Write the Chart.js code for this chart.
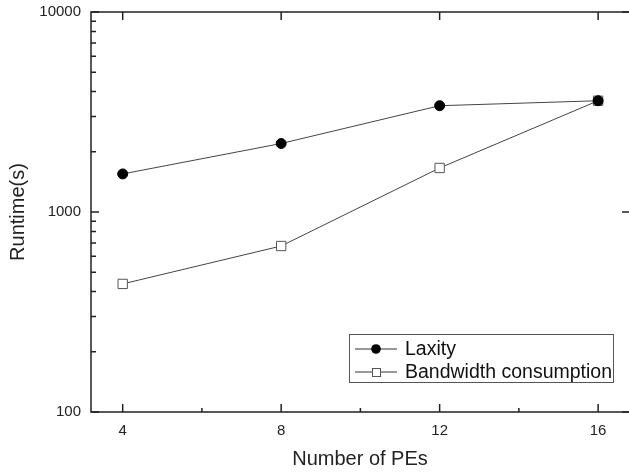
<!DOCTYPE html>
<html>
<head>
<meta charset="utf-8">
<script src="https://cdn.jsdelivr.net/npm/chart.js@4.4.1/dist/chart.umd.min.js"></script>
<style>
  html, body { margin: 0; padding: 0; background: #fff; overflow: hidden; }
  #chart { width: 629px; height: 472px; display: block; }
</style>
</head>
<body>
<canvas id="chart" width="629" height="472"></canvas>
<script>
// data
const peCounts = [4, 8, 12, 16];
const laxity = [1550, 2200, 3400, 3600];
const bandwidth = [437, 676, 1660, 3600];
const xTicks = [4, 8, 12, 16];
const xMinorTicks = [6, 10, 14];
const yTicks = [100, 1000, 10000];
const yMinorTicks = [200, 300, 400, 500, 600, 700, 800, 900, 2000, 3000, 4000, 5000, 6000, 7000, 8000, 9000];

const FONT = "'Liberation Sans', Arial, sans-serif";

// frame (right edge sits just outside the picture), inward ticks, boxed legend
const framePlugin = {
    id: 'frame',
    afterDraw(chart) {
        const ctx = chart.ctx;
        const a = chart.chartArea;
        const xs = chart.scales.x, ys = chart.scales.y;
        ctx.save();
        ctx.strokeStyle = '#222';
        ctx.lineWidth = 1.5;
        ctx.beginPath();
        ctx.moveTo(a.right + 2, a.top);
        ctx.lineTo(a.left, a.top);
        ctx.lineTo(a.left, a.bottom);
        ctx.lineTo(a.right + 2, a.bottom);
        ctx.stroke();

        ctx.beginPath();
        xTicks.forEach(v => {
            const px = xs.getPixelForValue(v);
            ctx.moveTo(px, a.bottom); ctx.lineTo(px, a.bottom - 8);
            ctx.moveTo(px, a.top); ctx.lineTo(px, a.top + 8);
        });
        xMinorTicks.forEach(v => {
            const px = xs.getPixelForValue(v);
            ctx.moveTo(px, a.bottom); ctx.lineTo(px, a.bottom - 4);
        });
        yTicks.forEach(v => {
            const py = ys.getPixelForValue(v);
            ctx.moveTo(a.left, py); ctx.lineTo(a.left + 8, py);
            ctx.moveTo(a.right + 2, py); ctx.lineTo(a.right - 7, py);
        });
        yMinorTicks.forEach(v => {
            const py = ys.getPixelForValue(v);
            ctx.moveTo(a.left, py); ctx.lineTo(a.left + 5, py);
        });
        ctx.stroke();

        // legend box
        const bx = 349.5, by = 334.5, bw = 264, bh = 48;
        ctx.lineWidth = 1;
        ctx.strokeStyle = '#555';
        ctx.strokeRect(bx, by, bw, bh);

        const rows = [349, 372];
        chart.data.datasets.forEach((ds, i) => {
            const y = rows[i];
            ctx.strokeStyle = '#333';
            ctx.lineWidth = 1;
            ctx.beginPath();
            ctx.moveTo(355, y); ctx.lineTo(397, y);
            ctx.stroke();
            if (ds.pointStyle === 'circle') {
                ctx.fillStyle = '#000';
                ctx.beginPath();
                ctx.arc(376, y, 4.8, 0, Math.PI * 2);
                ctx.fill();
            } else {
                ctx.fillStyle = '#fff';
                ctx.strokeStyle = '#555';
                ctx.fillRect(372, y - 4, 8, 8);
                ctx.strokeRect(372.5, y - 3.5, 8, 8);
            }
            ctx.fillStyle = '#111';
            ctx.font = '19.5px ' + FONT;
            ctx.textBaseline = 'middle';
            ctx.textAlign = 'left';
            ctx.fillText(ds.label, 405, y + 1);
        });
        ctx.restore();
    }
};

const chart = new Chart(document.getElementById('chart'), {
    type: 'line',
    data: {
        datasets: [
            {
                label: 'Laxity',
                data: peCounts.map((x, i) => ({ x: x, y: laxity[i] })),
                borderColor: '#444',
                borderWidth: 1,
                pointStyle: 'circle',
                pointRadius: 5,
                pointBackgroundColor: '#000',
                pointBorderColor: '#000',
                pointBorderWidth: 1
            },
            {
                label: 'Bandwidth consumption',
                data: peCounts.map((x, i) => ({ x: x, y: bandwidth[i] })),
                borderColor: '#444',
                borderWidth: 1,
                pointStyle: 'rect',
                pointRadius: 6.6,
                pointBackgroundColor: '#fff',
                pointBorderColor: '#555',
                pointBorderWidth: 1
            }
        ]
    },
    options: {
        responsive: false,
        animation: false,
        devicePixelRatio: 1,
        layout: { autoPadding: false, padding: { top: 12, right: 0, left: 0, bottom: 0 } },
        plugins: {
            legend: { display: false },
            tooltip: { enabled: false }
        },
        scales: {
            x: {
                type: 'linear',
                min: 3.2,
                max: 16.78,
                afterBuildTicks: s => { s.ticks = xTicks.map(v => ({ value: v })); },
                afterFit: s => { s.height = 60; s.paddingLeft = 0; s.paddingRight = 0; },
                grid: { display: false, drawTicks: false },
                border: { display: false },
                ticks: { padding: 10, color: '#222', font: { family: FONT, size: 15 } },
                title: { display: true, text: 'Number of PEs', color: '#222', padding: 1, font: { family: FONT, size: 20 } }
            },
            y: {
                type: 'logarithmic',
                min: 100,
                max: 10000,
                afterBuildTicks: s => { s.ticks = yTicks.map(v => ({ value: v })); },
                afterFit: s => { s.width = 91; s.paddingTop = 0; s.paddingBottom = 0; },
                grid: { display: false, drawTicks: false },
                border: { display: false },
                ticks: { padding: 10, color: '#222', font: { family: FONT, size: 15 }, callback: v => String(v) },
                title: { display: true, text: 'Runtime(s)', color: '#222', padding: 6, font: { family: FONT, size: 20 } }
            }
        }
    },
    plugins: [framePlugin]
});
</script>
</body>
</html>
